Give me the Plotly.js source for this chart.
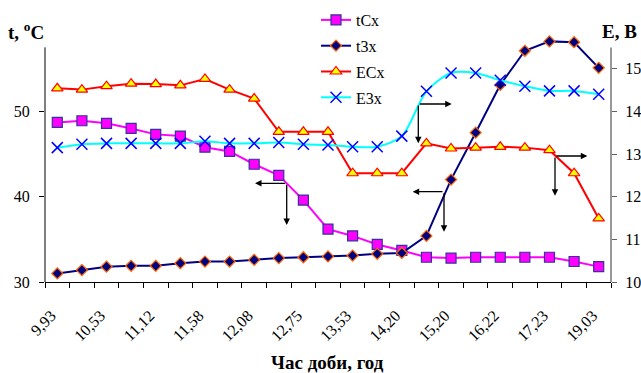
<!DOCTYPE html>
<html>
<head>
<meta charset="utf-8">
<script src="https://cdn.plot.ly/plotly-3.0.1.min.js"></script>
<style>html,body{margin:0;padding:0;background:#fff;}#chart{width:641px;height:373px;}</style>
</head>
<body>
<div id="chart"></div>
<script>
// Time of day (hours) – every second one is labelled on the axis; unlabelled ones estimated
const times = ["9,93","10,23","10,53","10,82","11,12","11,35","11,58","11,83","12,08","12,42","12,75","13,13",
               "13,53","13,87","14,20","14,70","15,20","15,72","16,22","16,72","17,23","18,13","19,03"];
// Temperatures, °C (left axis)
const tCx = [48.7, 48.9, 48.6, 48.0, 47.3, 47.1, 45.8, 45.3, 43.8, 42.5, 39.6, 36.2,
             35.4, 34.4, 33.7, 32.9, 32.8, 32.9, 32.9, 32.9, 32.9, 32.4, 31.8];
const t3x = [31.0, 31.4, 31.8, 31.9, 31.9, 32.2, 32.4, 32.4, 32.6, 32.8, 32.9, 33.0,
             33.1, 33.3, 33.4, 35.4, 42.0, 47.5, 53.1, 57.1, 58.2, 58.1, 55.1];
// Voltages, V (right axis)
const ECx = [14.54, 14.51, 14.59, 14.65, 14.64, 14.61, 14.76, 14.51, 14.30, 13.52, 13.52, 13.52,
             12.55, 12.55, 12.55, 13.25, 13.13, 13.15, 13.17, 13.15, 13.09, 12.55, 11.49];
const E3x = [13.15, 13.23, 13.25, 13.25, 13.25, 13.25, 13.30, 13.25, 13.25, 13.27, 13.23, 13.21,
             13.17, 13.17, 13.42, 14.47, 14.90, 14.90, 14.73, 14.59, 14.48, 14.48, 14.40];
const leftTicks = [30, 40, 50];
const rightTicks = [10, 11, 12, 13, 14, 15];

const FONT = "'Liberation Serif', 'Times New Roman', Times, serif";
const L = 45, T = 36, W = 566, H = 246;
const leftRange = [30, 58.83], rightRange = [10, 15.767];

const traces = [
  {name: "tCx", x: times, y: tCx, type: "scatter", mode: "lines+markers", legendgroup: "a",
   line: {color: "#FF00FF", width: 2},
   marker: {symbol: "square", size: 10, color: "#FF00FF", line: {color: "#333399", width: 1.2}}, cliponaxis: false},
  {name: "t3x", x: times, y: t3x, type: "scatter", mode: "lines+markers", legendgroup: "b",
   line: {color: "#000080", width: 2},
   marker: {symbol: "diamond", size: 8.5, color: "#000080", line: {color: "#FF6600", width: 1.2}}, cliponaxis: false},
  {name: "ECx", x: times, y: ECx, yaxis: "y2", type: "scatter", mode: "lines+markers", legendgroup: "c",
   line: {color: "#FF0000", width: 2},
   marker: {symbol: "triangle-up", size: 10, color: "#FFFF00", line: {color: "#FF0000", width: 1.2}}, cliponaxis: false},
  {name: "E3x", x: times, y: E3x, yaxis: "y2", type: "scatter", mode: "lines+markers", legendgroup: "d",
   line: {color: "#00FFFF", width: 2, shape: "spline", smoothing: 0.8},
   marker: {symbol: "x-thin-open", size: 11, color: "#0000FF", line: {color: "#0000FF", width: 1.5}}, cliponaxis: false}
];

// L-shaped pointer arrows (pixel positions of corner and the two heads)
const pointers = [
  {corner: [286.7, 183.3], heads: [[255, 183.3], [286.7, 225]]},
  {corner: [418.3, 104], heads: [[451.7, 104], [418.3, 143.3]]},
  {corner: [444, 191.7], heads: [[412.7, 191.7], [444, 231.7]]},
  {corner: [555, 156], heads: [[587.3, 156], [555, 195.7]]}
];
const annotations = [];
pointers.forEach(p => p.heads.forEach(h => {
  annotations.push({xref: "paper", yref: "paper", x: (h[0] - L) / W, y: (T + H - h[1]) / H,
    ax: p.corner[0] - h[0], ay: p.corner[1] - h[1], text: "", showarrow: true,
    arrowhead: 2, arrowsize: 1, arrowwidth: 1.3, arrowcolor: "#000"});
}));
annotations.push({xref: "paper", yref: "paper", x: (26 - L) / W, y: (T + H - 31) / H, xanchor: "center", yanchor: "middle",
  text: "<b>t, <sup>o</sup>C</b>", showarrow: false, font: {family: FONT, size: 19, color: "#000"}});
annotations.push({xref: "paper", yref: "paper", x: (620 - L) / W, y: (T + H - 31) / H, xanchor: "center", yanchor: "middle",
  text: "<b>E, B</b>", showarrow: false, font: {family: FONT, size: 19, color: "#000"}});
annotations.push({xref: "paper", yref: "paper", x: (327 - L) / W, y: (T + H - 362) / H, xanchor: "center", yanchor: "middle",
  text: "<b>Час доби, год</b>", showarrow: false, font: {family: FONT, size: 19, color: "#000"}});

const layout = {
  width: 641, height: 373,
  margin: {l: L, r: 641 - L - W, t: T, b: 373 - T - H, pad: 0, autoexpand: false},
  paper_bgcolor: "#fff", plot_bgcolor: "rgba(0,0,0,0)",
  font: {family: FONT, size: 16, color: "#000"},
  showlegend: true,
  legend: {x: (316 - L) / W, y: (T + H - 3) / H, xanchor: "left", yanchor: "top",
    bgcolor: "rgba(0,0,0,0)", font: {family: FONT, size: 16, color: "#000"},
    traceorder: "grouped", tracegroupgap: 2},
  xaxis: {type: "category", categoryarray: times, range: [-0.5, times.length - 0.5],
    tickmode: "array", tickvals: times, ticktext: times.map((t, i) => i % 2 === 0 ? t : ""),
    tickson: "boundaries", ticks: "outside", ticklen: 5, tickcolor: "#000", tickwidth: 1,
    tickangle: -45, tickfont: {family: FONT, size: 16, color: "#000"}, ticklabelstandoff: 17, ticklabelshift: -6,
    showline: true, linecolor: "#000", linewidth: 1, showgrid: false, zeroline: false, fixedrange: true, automargin: false},
  xaxis2: {overlaying: "x", anchor: "y", side: "bottom", type: "linear", range: [-0.5, times.length - 0.5],
    tickmode: "linear", tick0: -0.5, dtick: 1, ticks: "inside", ticklen: 5, tickcolor: "#000",
    showticklabels: false, showline: false, showgrid: false, zeroline: false},
  yaxis: {range: leftRange, tickmode: "array", tickvals: leftTicks, ticks: "outside", ticklen: 5,
    tickcolor: "#000", tickfont: {family: FONT, size: 16, color: "#000"}, ticklabelstandoff: 6,
    showline: false, showgrid: false, zeroline: false, automargin: false},
  yaxis2: {overlaying: "y", side: "right", anchor: "x", range: rightRange, tickmode: "array", tickvals: rightTicks,
    ticks: "outside", ticklen: 5, tickcolor: "#606060", tickfont: {family: FONT, size: 16, color: "#000"},
    ticklabelstandoff: 5, showline: false, showgrid: false, zeroline: false, automargin: false},
  yaxis3: {overlaying: "y", side: "left", anchor: "x", range: leftRange, tickmode: "array", tickvals: leftTicks,
    ticks: "inside", ticklen: 5, tickcolor: "#000", showticklabels: false, showline: false, showgrid: false, zeroline: false},
  yaxis4: {overlaying: "y", side: "right", anchor: "x", range: rightRange, tickmode: "array", tickvals: rightTicks,
    ticks: "inside", ticklen: 5, tickcolor: "#606060", showticklabels: false, showline: false, showgrid: false, zeroline: false},
  shapes: [
    {type: "line", xref: "paper", yref: "y", x0: 0, x1: 0, y0: 30, y1: 57.5, line: {color: "#000", width: 1}},
    {type: "line", xref: "paper", yref: "y2", x0: 1, x1: 1, y0: 10, y1: 15.5, line: {color: "#606060", width: 1.3}}
  ],
  annotations: annotations
};

Plotly.newPlot("chart", traces, layout, {staticPlot: true, displayModeBar: false});
</script>
</body>
</html>
